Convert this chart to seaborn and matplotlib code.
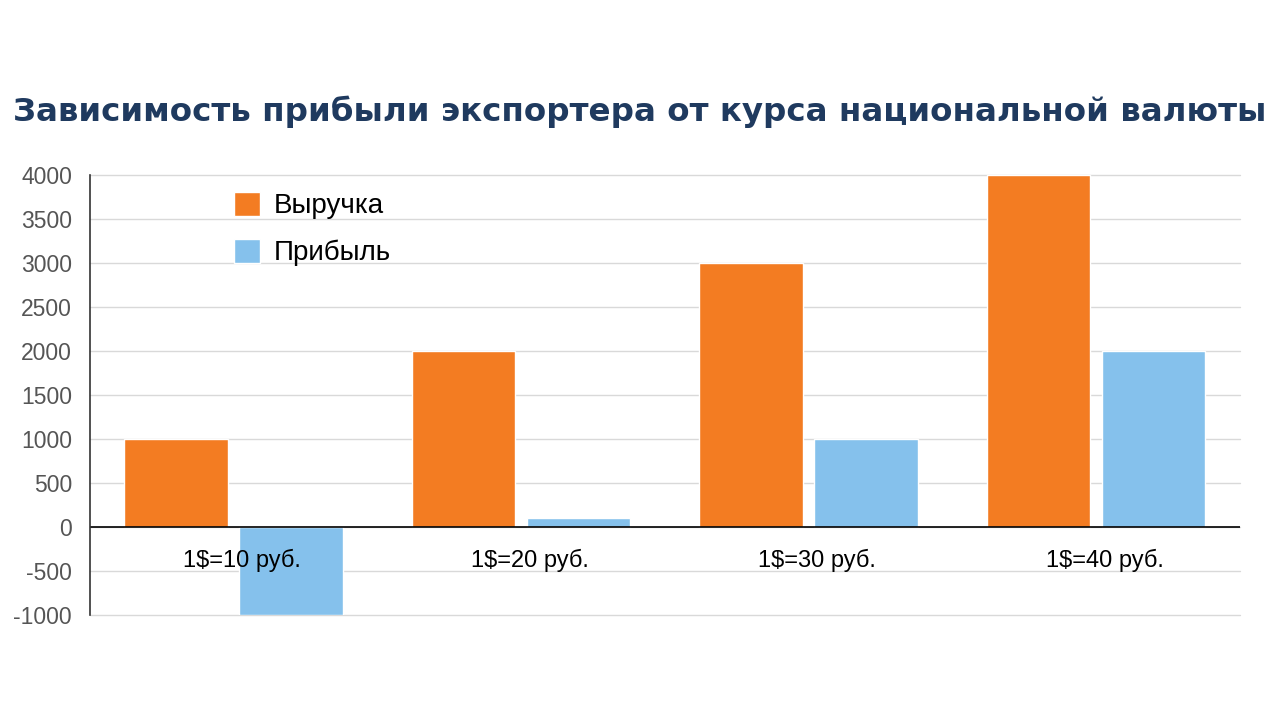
import pandas as pd
import seaborn as sns
import matplotlib.pyplot as plt
from matplotlib.patches import Patch

categories = ["1$=10 руб.", "1$=20 руб.", "1$=30 руб.", "1$=40 руб."]
revenue = [1000, 2000, 3000, 4000]
profit = [-1000, 100, 1000, 2000]
series_names = ["Выручка", "Прибыль"]
colors = ["#F37C22", "#85C1EC"]
title = "Зависимость прибыли экспортера от курса национальной валюты"

df = pd.DataFrame({
    "cat": categories * 2,
    "value": revenue + profit,
    "series": [series_names[0]] * 4 + [series_names[1]] * 4,
})

sns.set_style("white")
plt.rcParams["font.family"] = ["Liberation Sans", "DejaVu Sans"]
plt.rcParams["axes.unicode_minus"] = False

fig = plt.figure(figsize=(12.8, 7.2), dpi=100)
ax = fig.add_axes([0.0703, 0.1458, 0.8984, 0.6111])

sns.barplot(data=df, x="cat", y="value", hue="series", palette=colors,
            width=0.8, gap=0.1, saturation=1, legend=False, ax=ax)

ax.set_ylim(-1000, 4000)
ax.set_xlim(-0.5, 3.5)
ax.set_yticks(range(-1000, 4001, 500))
ax.tick_params(axis="y", labelsize=16.5, labelcolor="#555555", length=0, pad=13)
ax.set_xticks([])
ax.set_xlabel("")
ax.set_ylabel("")
ax.grid(axis="y", color="#D9D9D9", linewidth=1)
for gl in ax.get_ygridlines():
    gl.set_clip_on(False)
ax.set_axisbelow(True)
ax.axhline(0, color="black", linewidth=1.2)
for s in ["top", "right", "bottom"]:
    ax.spines[s].set_visible(False)
ax.spines["left"].set_color("#333333")
ax.spines["left"].set_linewidth(1.2)

for i, c in enumerate(categories):
    ax.text(i + 0.03, -380, c, ha="center", va="center", fontsize=17, color="black")

handles = [Patch(facecolor=colors[0]), Patch(facecolor=colors[1])]
ax.legend(handles, series_names, loc="upper left", bbox_to_anchor=(0.125, 0.962),
          frameon=False, fontsize=20, handlelength=0.95, handleheight=0.95,
          handletextpad=0.5, labelspacing=0.7, borderpad=0.0, borderaxespad=0.0,
          labelcolor="black")

fig.text(0.5, 0.845, title, ha="center", va="center", fontsize=23.4,
         fontweight="bold", color="#1F3A5F", family="DejaVu Sans")

fig.savefig("out.png", dpi=100, facecolor="white")
